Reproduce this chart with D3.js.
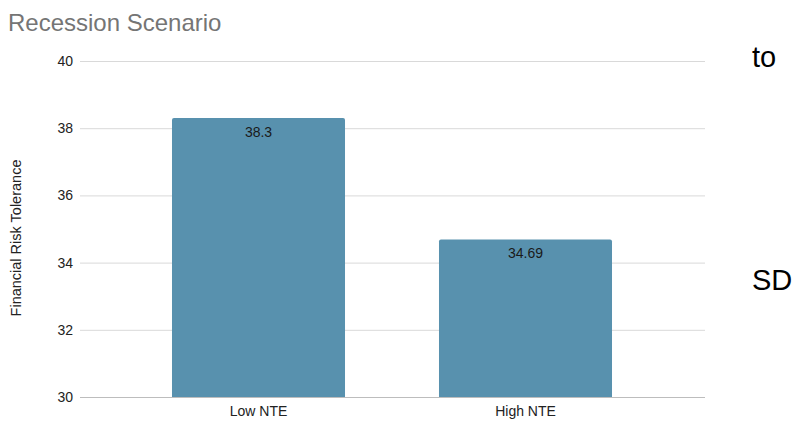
<!DOCTYPE html>
<html>
<head>
<meta charset="utf-8">
<script src="https://cdn.jsdelivr.net/npm/d3@7"></script>
<style>
  body { margin: 0; background: #fff; }
  text { font-family: Arial, "Liberation Sans", sans-serif; }
</style>
</head>
<body>
<svg id="chart"></svg>
<script>
const width = 798;
const height = 421;

const categories = ["Low NTE", "High NTE"];
const values = [38.3, 34.69];
const valueLabels = ["38.3", "34.69"];
const yTicks = [30, 32, 34, 36, 38, 40];

const svg = d3.select("#chart")
    .attr("width", width)
    .attr("height", height);

const x = d3.scaleBand()
    .domain(categories)
    .range([125, 659])
    .paddingInner(0.352)
    .paddingOuter(0.176);

const y = d3.scaleLinear()
    .domain([30, 40])
    .range([397, 61]);

// title
svg.append("text")
    .attr("x", 8)
    .attr("y", 31)
    .attr("font-size", "24px")
    .attr("fill", "#757575")
    .text("Recession Scenario");

// gridlines
svg.append("g")
  .selectAll("line")
  .data(yTicks)
  .enter().append("line")
    .attr("x1", 80)
    .attr("x2", 705)
    .attr("y1", d => y(d) + 0.5)
    .attr("y2", d => y(d) + 0.5)
    .attr("stroke", d => d === 30 ? "#bdbdbd" : "#d9d9d9")
    .attr("stroke-width", 1);

// tick labels
svg.append("g")
  .selectAll("text")
  .data(yTicks)
  .enter().append("text")
    .attr("x", 73)
    .attr("y", d => y(d))
    .attr("dy", "0.36em")
    .attr("text-anchor", "end")
    .attr("font-size", "14px")
    .attr("fill", "#222")
    .text(d => d);

// y axis title
svg.append("text")
    .attr("transform", "translate(21,238) rotate(-90)")
    .attr("text-anchor", "middle")
    .attr("font-size", "14.5px")
    .attr("fill", "#222")
    .text("Financial Risk Tolerance");

// bars, slightly rounded at the top
svg.append("g")
  .selectAll("path")
  .data(categories)
  .enter().append("path")
    .attr("fill", "#5891ae")
    .attr("d", (d, i) => {
      const x0 = x(d), w = x.bandwidth(), y0 = y(values[i]), y1 = y(30), r = 2;
      return `M${x0},${y1}V${y0 + r}Q${x0},${y0} ${x0 + r},${y0}H${x0 + w - r}Q${x0 + w},${y0} ${x0 + w},${y0 + r}V${y1}Z`;
    });

// value labels
svg.append("g")
  .selectAll("text")
  .data(categories)
  .enter().append("text")
    .attr("x", d => x(d) + x.bandwidth() / 2)
    .attr("y", (d, i) => y(values[i]) + 19)
    .attr("text-anchor", "middle")
    .attr("font-size", "14px")
    .attr("fill", "#1a1a1a")
    .text((d, i) => valueLabels[i]);

// category labels
svg.append("g")
  .selectAll("text")
  .data(categories)
  .enter().append("text")
    .attr("x", d => x(d) + x.bandwidth() / 2)
    .attr("y", 416)
    .attr("text-anchor", "middle")
    .attr("font-size", "14px")
    .attr("fill", "#222")
    .text(d => d);

// stray text on the right
svg.append("text")
    .attr("x", 752)
    .attr("y", 67)
    .attr("font-size", "29px")
    .attr("fill", "#000")
    .text("to");

svg.append("text")
    .attr("x", 752)
    .attr("y", 290)
    .attr("font-size", "29px")
    .attr("fill", "#000")
    .text("SD");
</script>
</body>
</html>
